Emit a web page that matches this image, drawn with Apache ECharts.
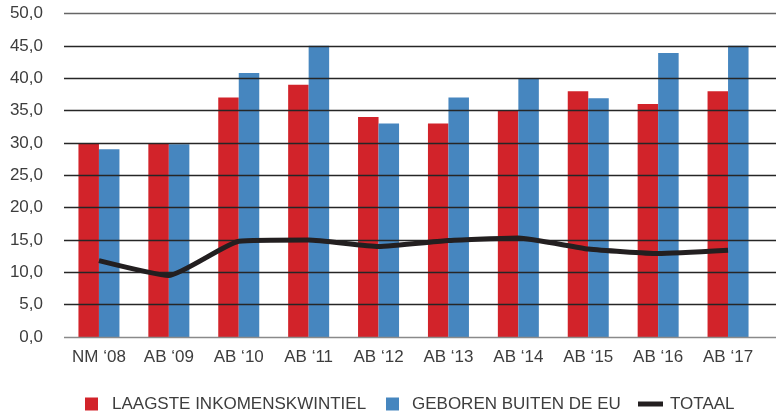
<!DOCTYPE html>
<html>
<head>
<meta charset="utf-8">
<script src="https://cdn.jsdelivr.net/npm/echarts@6/dist/echarts.min.js"></script>
<style>
  html, body { margin: 0; padding: 0; background: #fff; }
  #chart { width: 776px; height: 417px; }
</style>
</head>
<body>
<div id="chart"></div>
<script>
const categories = ['NM ‘08', 'AB ‘09', 'AB ‘10', 'AB ‘11', 'AB ‘12', 'AB ‘13', 'AB ‘14', 'AB ‘15', 'AB ‘16', 'AB ‘17']
const laagsteInkomen = [30, 30, 37, 39, 34, 33, 35, 38, 36, 38]
const geborenBuitenEU = [29, 29.8, 40.8, 45, 33, 37, 40, 36.9, 43.9, 45]
const totaal = [11.8, 9.5, 14.8, 15.0, 14.0, 14.9, 15.3, 13.6, 12.9, 13.4]
const yTicks = [0, 5, 10, 15, 20, 25, 30, 35, 40, 45, 50]

const FONT = "'Liberation Sans', Arial, sans-serif"
const TEXT = '#3d3d3d'
const RED = '#d2232a'
const BLUE = '#4686bf'
const DARK = '#231f20'

// split line colours, bottom (0,0) to top (50,0)
const gridColors = yTicks.map((t, i) => i === 0 ? '#8a8a8a' : (i === yTicks.length - 1 ? '#666' : '#262626'))

const chart = echarts.init(document.getElementById('chart'), null, { renderer: 'canvas' })

const legendBase = {
  top: 394,
  padding: 0,
  orient: 'horizontal',
  itemGap: 0,
  selectedMode: false,
  textStyle: { color: TEXT, fontFamily: FONT, fontSize: 17, lineHeight: 20 }
}

chart.setOption({
  animation: false,
  backgroundColor: '#fff',
  grid: [
    { left: 64, right: 13, top: 13.5, bottom: 80, containLabel: false },
    { left: 64, right: 0, top: 13.5, bottom: 80, containLabel: false }
  ],
  legend: [
    { ...legendBase, left: 85, itemWidth: 13, itemHeight: 13,
      textStyle: { ...legendBase.textStyle, padding: [0, 0, 0, 9] },
      data: [{ name: 'LAAGSTE INKOMENSKWINTIEL', icon: 'rect' }] },
    { ...legendBase, left: 386, itemWidth: 13, itemHeight: 13,
      textStyle: { ...legendBase.textStyle, padding: [0, 0, 0, 8] },
      data: [{ name: 'GEBOREN BUITEN DE EU', icon: 'rect' }] },
    { ...legendBase, left: 638, itemWidth: 25, itemHeight: 5,
      textStyle: { ...legendBase.textStyle, padding: [0, 0, 0, 2] },
      data: [{ name: 'TOTAAL', icon: 'rect' }] }
  ],
  xAxis: [
    {
      type: 'category', gridIndex: 0, data: categories, boundaryGap: true,
      axisLine: { show: false }, axisTick: { show: false },
      axisLabel: { interval: 0, color: TEXT, fontFamily: FONT, fontSize: 17, margin: 12 }
    },
    { type: 'value', gridIndex: 1, show: false, min: 0, max: 1 }
  ],
  yAxis: [
    {
      type: 'value', gridIndex: 0, min: yTicks[0], max: yTicks[yTicks.length - 1], interval: 5,
      axisLine: { show: false }, axisTick: { show: false }, splitLine: { show: false },
      axisLabel: {
        color: TEXT, fontFamily: FONT, fontSize: 17, margin: 21,
        formatter: v => v.toFixed(1).replace('.', ',')
      }
    },
    {
      type: 'value', gridIndex: 1, min: yTicks[0], max: yTicks[yTicks.length - 1], interval: 5,
      z: 3,
      axisLine: { show: false }, axisTick: { show: false }, axisLabel: { show: false },
      splitLine: { show: true, lineStyle: { color: gridColors, width: 1.3 } }
    }
  ],
  series: [
    {
      name: 'LAAGSTE INKOMENSKWINTIEL', type: 'bar', xAxisIndex: 0, yAxisIndex: 0,
      data: laagsteInkomen, barWidth: 20.5, barGap: '0%', z: 2,
      itemStyle: { color: RED }
    },
    {
      name: 'GEBOREN BUITEN DE EU', type: 'bar', xAxisIndex: 0, yAxisIndex: 0,
      data: geborenBuitenEU, barWidth: 20.5, barGap: '0%', z: 2,
      itemStyle: { color: BLUE }
    },
    {
      name: 'TOTAAL', type: 'line', xAxisIndex: 0, yAxisIndex: 0,
      data: totaal, smooth: 0.15, symbol: 'none', z: 5,
      lineStyle: { color: DARK, width: 5, cap: 'butt', join: 'round' },
      itemStyle: { color: DARK }
    }
  ]
})
</script>
</body>
</html>
